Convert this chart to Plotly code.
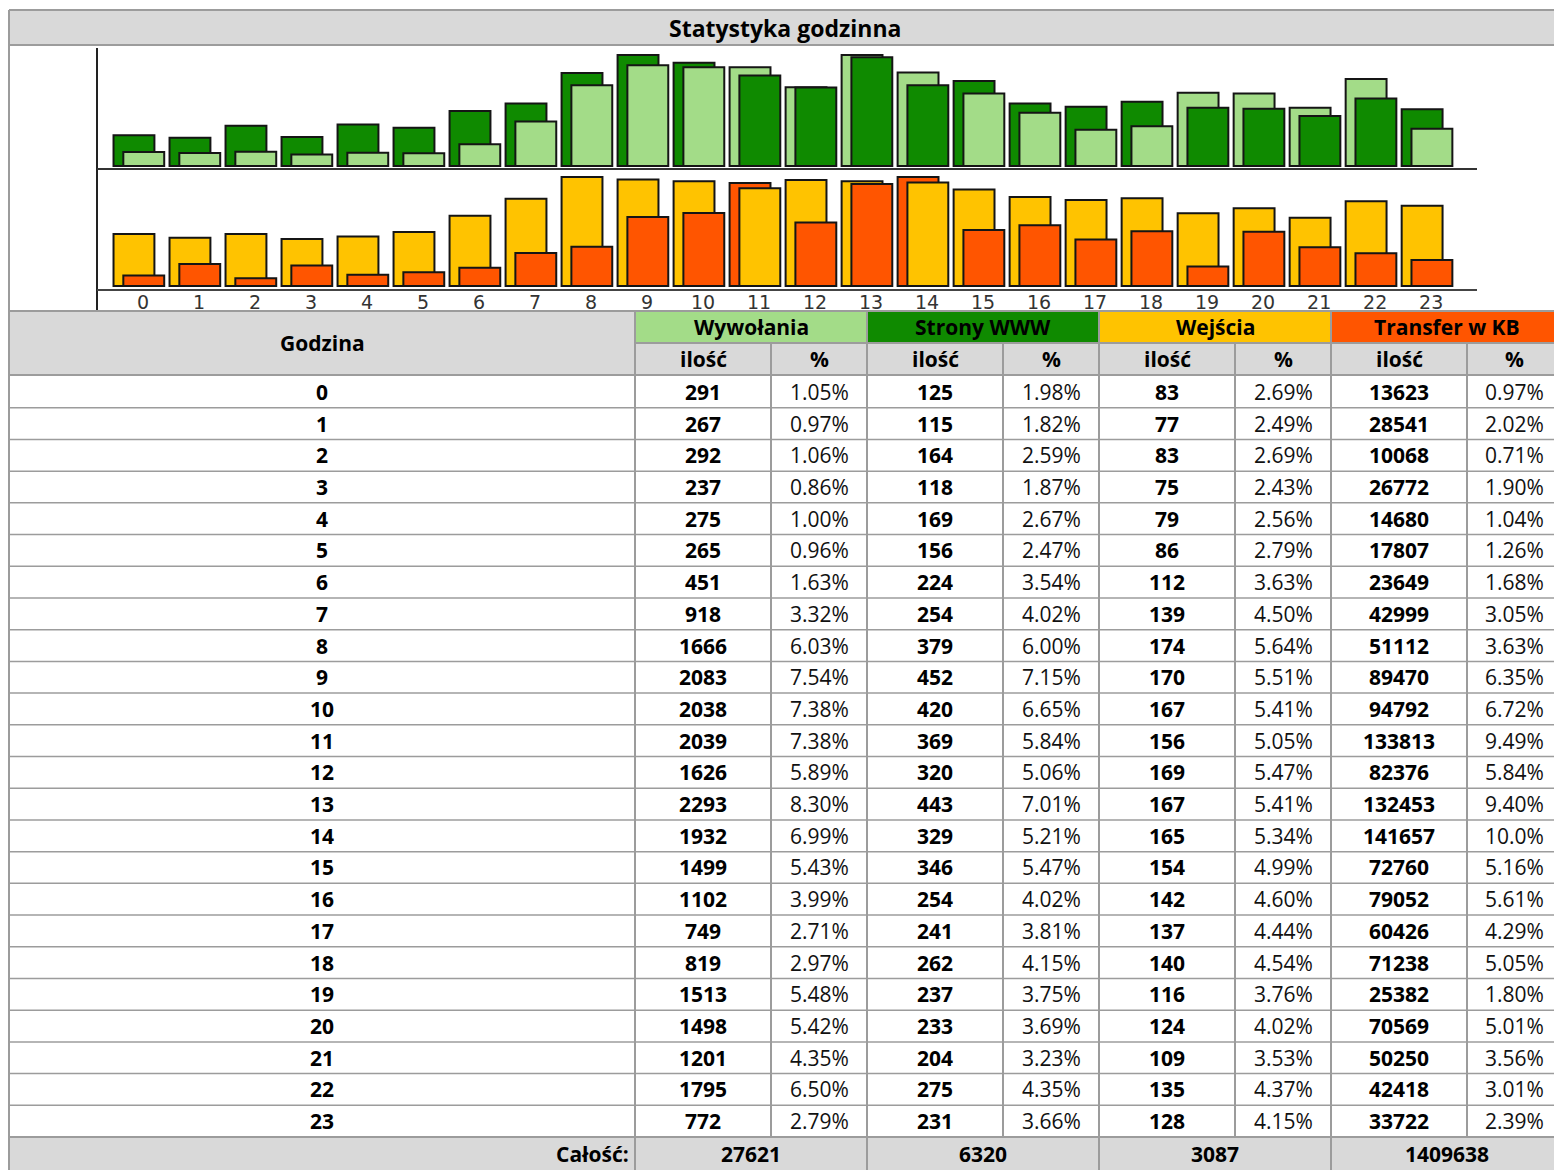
import plotly.graph_objects as go

# ---------------- data ----------------
hours = list(range(24))
wywolania = [291, 267, 292, 237, 275, 265, 451, 918, 1666, 2083, 2038, 2039,
             1626, 2293, 1932, 1499, 1102, 749, 819, 1513, 1498, 1201, 1795, 772]
wywolania_pct = [1.05, 0.97, 1.06, 0.86, 1.00, 0.96, 1.63, 3.32, 6.03, 7.54, 7.38, 7.38,
                 5.89, 8.30, 6.99, 5.43, 3.99, 2.71, 2.97, 5.48, 5.42, 4.35, 6.50, 2.79]
strony = [125, 115, 164, 118, 169, 156, 224, 254, 379, 452, 420, 369,
          320, 443, 329, 346, 254, 241, 262, 237, 233, 204, 275, 231]
strony_pct = [1.98, 1.82, 2.59, 1.87, 2.67, 2.47, 3.54, 4.02, 6.00, 7.15, 6.65, 5.84,
              5.06, 7.01, 5.21, 5.47, 4.02, 3.81, 4.15, 3.75, 3.69, 3.23, 4.35, 3.66]
wejscia = [83, 77, 83, 75, 79, 86, 112, 139, 174, 170, 167, 156,
           169, 167, 165, 154, 142, 137, 140, 116, 124, 109, 135, 128]
wejscia_pct = [2.69, 2.49, 2.69, 2.43, 2.56, 2.79, 3.63, 4.50, 5.64, 5.51, 5.41, 5.05,
               5.47, 5.41, 5.34, 4.99, 4.60, 4.44, 4.54, 3.76, 4.02, 3.53, 4.37, 4.15]
transfer = [13623, 28541, 10068, 26772, 14680, 17807, 23649, 42999, 51112, 89470, 94792, 133813,
            82376, 132453, 141657, 72760, 79052, 60426, 71238, 25382, 70569, 50250, 42418, 33722]
transfer_pct = [0.97, 2.02, 0.71, 1.90, 1.04, 1.26, 1.68, 3.05, 3.63, 6.35, 6.72, 9.49,
                5.84, 9.40, 10.0, 5.16, 5.61, 4.29, 5.05, 1.80, 5.01, 3.56, 3.01, 2.39]
totals = [27621, 6320, 3087, 1409638]
group_names = ["Wywołania", "Strony WWW", "Wejścia", "Transfer w KB"]
title_text = "Statystyka godzinna"
hour_header = "Godzina"
sub_headers = ["ilość", "%"]
total_label = "Całość:"

# ---------------- style ----------------
LG, DG, YE, OR = "#a3dc88", "#0f8a00", "#ffc300", "#ff5500"
GRAY_BG, GRID = "#d9d9d9", "#9c9c9c"
FONT = "Open Sans"
TICK_FONT = "DejaVu Sans"
FS = 21
W, H = 1554, 1162
OX, OY = 8, 8


def px(x):
    return (x - OX) / W


def py(y):
    return 1 - (y - OY) / H


shapes, anns = [], []


def rect(x0, y0, x1, y1, fill):
    shapes.append(dict(type="rect", xref="paper", yref="paper", x0=px(x0), x1=px(x1),
                       y0=py(y1), y1=py(y0), fillcolor=fill, line=dict(width=0), layer="below"))


def hline(x0, x1, y, color=GRID, w=1.5):
    shapes.append(dict(type="line", xref="paper", yref="paper", x0=px(x0), x1=px(x1),
                       y0=py(y), y1=py(y), line=dict(color=color, width=w), layer="above"))


def vline(x, y0, y1, color=GRID, w=2):
    shapes.append(dict(type="line", xref="paper", yref="paper", x0=px(x), x1=px(x),
                       y0=py(y0), y1=py(y1), line=dict(color=color, width=w), layer="above"))


def text(x, y, s, size=FS, bold=False, anchor="center", color="#000"):
    anns.append(dict(xref="paper", yref="paper", x=px(x), y=py(y),
                     text=f"<b>{s}</b>" if bold else s, showarrow=False,
                     xanchor=anchor, yanchor="middle",
                     font=dict(family=FONT, size=size, color=color)))


def fmt_pct(v):
    return f"{v:.1f}%" if v >= 10 else f"{v:.2f}%"


# ---------------- bars ----------------
def split(a, b, ca, cb):
    ma, mb = max(a), max(b)
    by, bc, fy, fc = [], [], [], []
    for va, vb in zip(a, b):
        na, nb = va / ma, vb / mb
        if na >= nb:
            by.append(na); bc.append(ca); fy.append(nb); fc.append(cb)
        else:
            by.append(nb); bc.append(cb); fy.append(na); fc.append(ca)
    return by, bc, fy, fc


BW = 0.73
OFF_BACK, OFF_FRONT = -0.455, -0.28
line_style = dict(color="#151515", width=2)

fig = go.Figure()
for (a, b, ca, cb, xa, ya) in [(wywolania, strony, LG, DG, "x2", "y"),
                               (wejscia, transfer, YE, OR, "x", "y2")]:
    by, bc, fy, fc = split(a, b, ca, cb)
    fig.add_trace(go.Bar(x=hours, y=by, width=BW, offset=OFF_BACK,
                         marker=dict(color=bc, line=line_style),
                         xaxis=xa, yaxis=ya, hoverinfo="skip"))
    fig.add_trace(go.Bar(x=hours, y=fy, width=BW, offset=OFF_FRONT,
                         marker=dict(color=fc, line=line_style),
                         xaxis=xa, yaxis=ya, hoverinfo="skip"))

# ---------------- frame / title ----------------
XR = 1562
rect(9, 10, XR, 45, GRAY_BG)
hline(9, XR, 10, GRID, 2)
hline(9, XR, 45, GRID, 2)
vline(9, 10, 1172, GRID, 2)
text(785, 28, title_text, size=23, bold=True)

# chart axes lines
vline(97, 48, 310, "#222", 2)
hline(97, 1477, 169, "#333", 2)
hline(97, 1477, 290, "#444", 2)

# ---------------- table ----------------
col_edges = [635, 771, 867, 1003, 1099, 1235, 1331, 1467, XR]
group_colors = [LG, DG, YE, OR]
H1, H2, H3 = 311, 343, 375
ROW0, FOOT = 376, 1137
RH = (FOOT - ROW0) / 24

rect(10, H1, 635, H3, GRAY_BG)
for g in range(4):
    x0, x1 = col_edges[2 * g], col_edges[2 * g + 2]
    rect(x0, H1, x1, H2, group_colors[g])
    text((x0 + x1) / 2, (H1 + H2) / 2, group_names[g], bold=True)
rect(635, H2, XR, H3, GRAY_BG)
rect(10, FOOT, XR, 1172, GRAY_BG)

text(322, (H1 + H3) / 2, hour_header, bold=True)
for c in range(8):
    x0, x1 = col_edges[c], col_edges[c + 1]
    text((x0 + x1) / 2, (H2 + H3) / 2, sub_headers[c % 2], bold=True)

# lines
hline(9, XR, H1, GRID, 2)
hline(635, XR, H2, GRID, 2)
hline(9, XR, H3, GRID, 2)
for k in range(1, 24):
    hline(9, XR, ROW0 + k * RH, GRID, 1.5)
hline(9, XR, FOOT, GRID, 2)
for i, x in enumerate(col_edges[:-1]):
    if i % 2 == 0:
        vline(x, H1, 1172)
    else:
        vline(x, H2, FOOT)

series = [(wywolania, wywolania_pct), (strony, strony_pct),
          (wejscia, wejscia_pct), (transfer, transfer_pct)]
for r, h in enumerate(hours):
    yc = ROW0 + (r + 0.5) * RH
    text(322, yc, str(h), bold=True)
    for g, (vals, pcts) in enumerate(series):
        xa, xb, xc = col_edges[2 * g], col_edges[2 * g + 1], col_edges[2 * g + 2]
        text((xa + xb) / 2, yc, str(vals[r]), bold=True)
        text((xb + xc) / 2, yc, fmt_pct(pcts[r]), color="#111")

yf = 1154
text(631, yf, total_label, bold=True, anchor="right")
for g in range(4):
    x0, x1 = col_edges[2 * g], col_edges[2 * g + 2]
    text((x0 + x1) / 2, yf, str(totals[g]), bold=True)

# ---------------- layout ----------------
x_dom = [px(97), px(1477)]
x_range = [-0.75, 23.89]
fig.update_layout(
    width=W, height=H, margin=dict(l=0, r=0, t=0, b=0),
    paper_bgcolor="white", plot_bgcolor="rgba(0,0,0,0)",
    barmode="overlay", showlegend=False,
    shapes=shapes, annotations=anns,
    xaxis=dict(domain=x_dom, range=x_range, anchor="y2", tickmode="array",
               tickvals=hours, ticktext=[str(h) for h in hours],
               showgrid=False, zeroline=False, showline=False, ticks="",
               tickfont=dict(family=TICK_FONT, size=19, color="#333"),
               ticklabelstandoff=1, ticklabelshift=4),
    xaxis2=dict(domain=x_dom, range=x_range, matches="x", anchor="y", visible=False),
    yaxis=dict(domain=[py(168), py(48)], range=[-2 / 111, 118 / 111], visible=False),
    yaxis2=dict(domain=[py(288), py(172)], range=[-2 / 111, 116 / 111], visible=False),
)

fig.write_html("out.html")
